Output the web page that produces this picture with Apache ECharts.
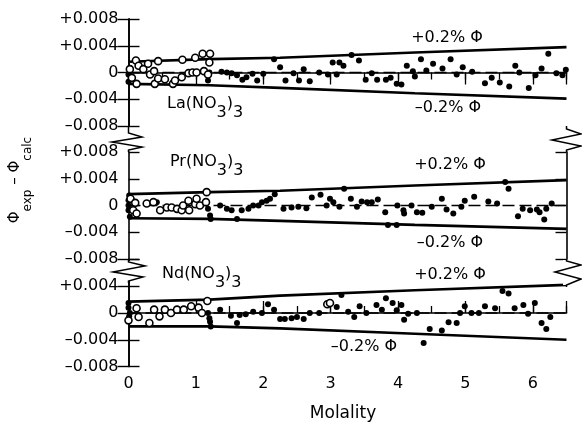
<!DOCTYPE html>
<html><head><meta charset="utf-8">
<script src="https://cdn.jsdelivr.net/npm/echarts@6/dist/echarts.min.js"></script>
<style>html,body{margin:0;padding:0;background:#fff}#c{width:582px;height:424px}</style>
</head><body><div id="c"></div><script>
// ---------- data ----------
const panelNames = ['La', 'Pr', 'Nd'];
const xTicks = [0, 1, 2, 3, 4, 5, 6];
const yTicks = [-0.008, -0.004, 0, 0.004, 0.008];
const boundX = [0, 1.2, 2.25, 4.25, 6.5];
const laUpper = [0.0016, 0.0020, 0.0022, 0.0030, 0.0038];
const laLower = [-0.0017, -0.0019, -0.0023, -0.0031, -0.0039];
const prUpper = [0.0017, 0.0020, 0.0022, 0.0030, 0.0038];
const prLower = [-0.0019, -0.0020, -0.0023, -0.0029, -0.0035];
const ndUpper = [0.0017, 0.0020, 0.0026, 0.0034, 0.0042];
const ndLower = [-0.0020, -0.0020, -0.0023, -0.0031, -0.0040];
const zeroLine = [[0, 0], [6.5, 0]];

const laFilled = [[0.0,-0.0003],[0.0,-0.0014],[0.03,0.0006],
[1.18,-0.0012],[1.2,0.0],[1.38,0.0001],[1.46,0.0],[1.53,-0.0001],[1.61,-0.0004],[1.69,-0.0011],[1.75,-0.0007],[1.84,-0.0002],[1.91,-0.0012],[2.0,-0.0002],[2.16,0.002],[2.25,0.0008],[2.33,-0.0012],[2.45,-0.0001],[2.53,-0.0012],[2.6,0.0005],[2.69,-0.0013],[2.83,0.0],[2.96,-0.0003],[3.03,0.0015],[3.09,-0.0003],[3.13,0.0015],[3.19,0.001],[3.31,0.0026],[3.42,0.0018],[3.52,-0.0011],[3.61,-0.0001],[3.69,-0.0011],[3.82,-0.0011],[3.89,-0.0008],[3.98,-0.0017],[4.05,-0.0018],[4.13,0.001],[4.22,0.0002],[4.25,-0.0006],[4.34,0.002],[4.42,0.0003],[4.52,0.0013],[4.66,0.0006],[4.78,0.002],[4.87,-0.0003],[4.96,0.0008],[5.1,0.0001],[5.29,-0.0016],[5.39,-0.0008],[5.51,-0.0015],[5.65,-0.0021],[5.74,0.001],[5.8,0.0],[5.94,-0.0023],[6.04,-0.0004],[6.13,0.0006],[6.23,0.0028],[6.35,-0.0001],[6.44,-0.0004],[6.49,0.0004]];
const laOpen = [[0.02,0.0005],[0.05,-0.0008],[0.11,0.0018],[0.15,0.001],[0.12,-0.0017],[0.22,0.0005],[0.29,0.0013],[0.32,-0.0003],[0.38,0.0002],[0.39,-0.0017],[0.44,0.0017],[0.44,-0.0009],[0.54,-0.001],[0.66,-0.0017],[0.69,-0.0012],[0.79,-0.0007],[0.8,0.0019],[0.89,-0.0001],[0.95,0.0],[0.99,0.0022],[1.01,0.0],[1.1,0.0028],[1.12,0.0002],[1.21,0.0028],[1.2,0.0015],[1.18,-0.0003]];

const prFilled = [[0.0,0.0008],[0.0,-0.0007],[0.02,-0.0017],[0.0,0.0],[0.01,0.0015],
[0.42,0.0005],[1.18,-0.0005],[1.21,-0.0015],[1.22,-0.002],[1.36,0.0],[1.46,-0.0005],[1.53,-0.0007],[1.61,-0.002],[1.68,-0.0007],[1.78,-0.0005],[1.85,0.0],[1.93,0.0],[1.98,0.0005],[2.05,0.0007],[2.1,0.001],[2.17,0.0017],[2.3,-0.0005],[2.42,-0.0003],[2.52,-0.0002],[2.64,-0.0004],[2.72,0.0012],[2.85,0.0016],[2.94,0.0],[2.99,0.001],[3.04,0.0005],[3.13,-0.0002],[3.2,0.0025],[3.3,0.001],[3.39,-0.0002],[3.46,0.0006],[3.54,0.0005],[3.61,0.0005],[3.7,0.0009],[3.81,-0.001],[3.85,-0.0029],[3.98,-0.0029],[3.99,0.0],[4.08,-0.0007],[4.09,-0.0012],[4.2,0.0],[4.28,-0.001],[4.36,-0.0011],[4.5,-0.0002],[4.65,0.001],[4.72,-0.0006],[4.82,-0.0012],[4.94,-0.0002],[4.99,0.0007],[5.13,0.0013],[5.34,0.0006],[5.47,0.0003],[5.59,0.0035],[5.64,0.0025],[5.78,-0.0016],[5.85,-0.0005],[5.96,-0.0007],[6.06,-0.0006],[6.1,-0.001],[6.17,-0.0021],[6.2,-0.0005],[6.28,0.0003]];
const prOpen = [[0.03,0.001],[0.07,-0.0007],[0.1,0.0004],[0.12,-0.0012],[0.27,0.0003],[0.37,0.0005],[0.47,-0.0007],[0.57,-0.0003],[0.64,-0.0003],[0.72,-0.0005],[0.79,-0.0007],[0.81,0.0],[0.89,0.0007],[0.9,-0.0007],[0.99,0.0002],[1.01,0.001],[1.06,0.0],[1.16,0.002],[1.15,0.0005]];

const ndFilled = [[0.0,0.0015],[0.0,0.0008],[0.02,0.0],[0.01,-0.0005],
[1.18,0.0],[1.2,-0.0008],[1.21,-0.0013],[1.22,-0.002],[1.36,0.0005],[1.52,-0.0004],[1.61,-0.0015],[1.65,-0.0003],[1.74,-0.0002],[1.85,0.0002],[1.98,0.0],[2.07,0.0013],[2.16,0.0005],[2.25,-0.0009],[2.32,-0.0009],[2.42,-0.0008],[2.5,-0.0006],[2.6,-0.0009],[2.69,0.0],[2.83,0.0],[3.09,0.0009],[3.16,0.0027],[3.26,0.0002],[3.35,-0.0006],[3.43,0.001],[3.53,0.0],[3.68,0.0012],[3.76,0.0005],[3.82,0.0022],[3.92,0.0015],[3.98,0.0004],[4.05,0.0012],[4.09,-0.001],[4.15,-0.0001],[4.28,0.0],[4.38,-0.0045],[4.47,-0.0024],[4.65,-0.0026],[4.75,-0.0014],[4.87,-0.0015],[4.92,0.0],[4.99,0.001],[5.09,0.0],[5.2,0.0],[5.29,0.001],[5.44,0.0007],[5.55,0.0033],[5.64,0.0029],[5.73,0.0007],[5.86,0.0012],[5.93,-0.0001],[6.03,0.0015],[6.13,-0.0015],[6.2,-0.0024],[6.26,-0.0006]];
const ndOpen = [[0.0,-0.0011],[0.12,0.0007],[0.15,-0.0006],[0.31,-0.0015],[0.38,0.0005],[0.46,-0.0005],[0.54,0.0005],[0.63,0.0],[0.72,0.0005],[0.82,0.0005],[0.93,0.001],[1.04,0.0008],[1.09,0.0],[1.17,0.0018],[2.95,0.0013],[2.99,0.0015]];

// ---------- chart ----------
const FONT = 'DejaVu Sans';
const zip = (xs, ys) => xs.map((x, i) => [x, ys[i]]);
const panels = [
  {upper: laUpper, lower: laLower, filled: laFilled, open: laOpen},
  {upper: prUpper, lower: prLower, filled: prFilled, open: prOpen},
  {upper: ndUpper, lower: ndLower, filled: ndFilled, open: ndOpen}
];
const gridTops = [19, 152, 259.5];
const grid = gridTops.map(t => ({left: 128.5, top: t, width: 438, height: 107}));

const yFmt = (hideTop) => (v) => {
  const a = Math.abs(v);
  if (a < 1e-9) return '0';
  if (hideTop && v > 0.007) return '';
  return (v > 0 ? '+' : '\u2013') + a.toFixed(3);
};
const axLine = {show: true, lineStyle: {color: '#000', width: 1.6}};
const yAxis = [];
for (let i = 0; i < 3; i++) {
  const base = {gridIndex: i, type: 'value', min: yTicks[0], max: yTicks[yTicks.length - 1],
    interval: yTicks[1] - yTicks[0], splitLine: {show: false}};
  yAxis.push(Object.assign({}, base, {position: 'left', axisLine: axLine,
    axisTick: {inside: true, length: 11, lineStyle: {color: '#000', width: 1.4}},
    axisLabel: {formatter: yFmt(i === 2), margin: 10, fontFamily: FONT, fontSize: 16, color: '#000'}}));
  yAxis.push(Object.assign({}, base, {position: 'right', axisLine: axLine,
    axisTick: {inside: true, length: 11, lineStyle: {color: '#000', width: 1.4}},
    axisLabel: {show: false}}));
}
const xBase = {type: 'value', min: xTicks[0], max: 6.5, splitLine: {show: false}};
const xAxis = [
  Object.assign({}, xBase, {gridIndex: 0, position: 'top', interval: 0.5, axisLine: axLine,
    axisTick: {inside: true, length: 7, lineStyle: {color: '#000', width: 1.3}}, axisLabel: {show: false}}),
  Object.assign({}, xBase, {gridIndex: 0, position: 'top', interval: 1, axisLine: {show: false},
    axisTick: {inside: true, length: 12, lineStyle: {color: '#000', width: 1.3}}, axisLabel: {show: false}}),
  Object.assign({}, xBase, {gridIndex: 1, show: false}),
  Object.assign({}, xBase, {gridIndex: 2, position: 'bottom', interval: 1, axisLine: axLine,
    axisTick: {inside: true, length: 12, lineStyle: {color: '#000', width: 1.3}},
    axisLabel: {formatter: v => (xTicks.indexOf(v) >= 0 ? String(v) : ''), margin: 9, fontFamily: FONT, fontSize: 16, color: '#000'}}),
  Object.assign({}, xBase, {gridIndex: 2, position: 'bottom', interval: 0.5, axisLine: {show: false},
    axisTick: {inside: true, length: 7, lineStyle: {color: '#000', width: 1.3}}, axisLabel: {show: false}})
];
const xIdx = [0, 2, 3];
const series = [];
panels.forEach((p, i) => {
  const common = {xAxisIndex: xIdx[i], yAxisIndex: i * 2, animation: false, silent: true};
  series.push(Object.assign({type: 'line', data: zip(boundX, p.upper), symbol: 'none',
    lineStyle: {color: '#000', width: 2.6}, z: 3}, common));
  series.push(Object.assign({type: 'line', data: zip(boundX, p.lower), symbol: 'none',
    lineStyle: {color: '#000', width: 2.6}, z: 3}, common));
  series.push(Object.assign({type: 'line', data: zeroLine, symbol: 'none',
    lineStyle: {color: '#000', width: 1.5, type: [12, 5]}, z: 3}, common));
  series.push(Object.assign({type: 'scatter', data: p.filled, symbol: 'circle', symbolSize: 6,
    itemStyle: {color: '#000', opacity: 1}, z: 4}, common));
  series.push(Object.assign({type: 'scatter', data: p.open, symbol: 'circle', symbolSize: 7,
    itemStyle: {color: '#fff', borderColor: '#000', borderWidth: 1.6, opacity: 1}, z: 5}, common));
});

const txt = (x, y, text, extra) => ({type: 'text', x: x, y: y, z: 100,
  style: Object.assign({text: text, fontFamily: FONT, fontSize: 16, fill: '#000', align: 'center', verticalAlign: 'middle'}, extra || {})});
const chemRich = {
  m: {fontFamily: FONT, fontSize: 16, lineHeight: 25, verticalAlign: 'top', fill: '#000'},
  s: {fontFamily: FONT, fontSize: 16, lineHeight: 25, verticalAlign: 'bottom', fill: '#000'}
};
const chem = (x, y, name) => ({type: 'text', x: x, y: y, z: 100,
  style: {text: '{m|' + name + '(NO}{s|3}{m|)}{s|3}', rich: chemRich, align: 'left', verticalAlign: 'top'}});
const zig = (pts) => ({type: 'polyline', z: 101, shape: {points: pts}, style: {stroke: '#000', lineWidth: 1.5, fill: null}});
const white = (x, y, w, h) => ({type: 'rect', z: 99, shape: {x: x, y: y, width: w, height: h}, style: {fill: '#fff'}});

const graphic = [
  txt(447, 38, '+0.2% \u03a6'), txt(448, 108, '\u20130.2% \u03a6'),
  txt(450, 165, '+0.2% \u03a6'), txt(450, 243, '\u20130.2% \u03a6'),
  txt(450, 275, '+0.2% \u03a6'), txt(364, 347, '\u20130.2% \u03a6'),
  chem(167, 96, panelNames[0]), chem(170, 154, panelNames[1]), chem(162, 266, panelNames[2]),
  txt(343, 414, 'Molality', {fontSize: 17}),
  {type: 'text', x: 21, y: 180, rotation: Math.PI / 2, z: 100,
    style: {text: '{a|\u03a6}{b|exp}{a| \u2013 \u03a6}{b|calc}', align: 'center', verticalAlign: 'middle',
      rich: {a: {fontFamily: FONT, fontSize: 15, lineHeight: 26, verticalAlign: 'top', fill: '#000'},
             b: {fontFamily: FONT, fontSize: 12, lineHeight: 26, verticalAlign: 'bottom', fill: '#000'}}}},
  white(125, 261, 7, 20), white(563, 260, 7, 25),
  zig([[128.5,126],[128.5,133],[142,137],[112,142],[142,147],[128.5,150],[128.5,152]]),
  zig([[566.5,126],[566.5,129],[581,134],[552,140],[581,146],[566.5,150],[566.5,152]]),
  zig([[128.5,259],[128.5,262],[145,266],[113,272],[143,277],[128.5,281],[128.5,283]]),
  zig([[566.5,259],[566.5,261],[581,265],[555,272],[581,279],[566.5,285],[566.5,287]])
];

const chart = echarts.init(document.getElementById('c'), null, {renderer: 'canvas'});
chart.setOption({animation: false, backgroundColor: '#fff', grid: grid, xAxis: xAxis, yAxis: yAxis, series: series, graphic: graphic});
</script></body></html>
